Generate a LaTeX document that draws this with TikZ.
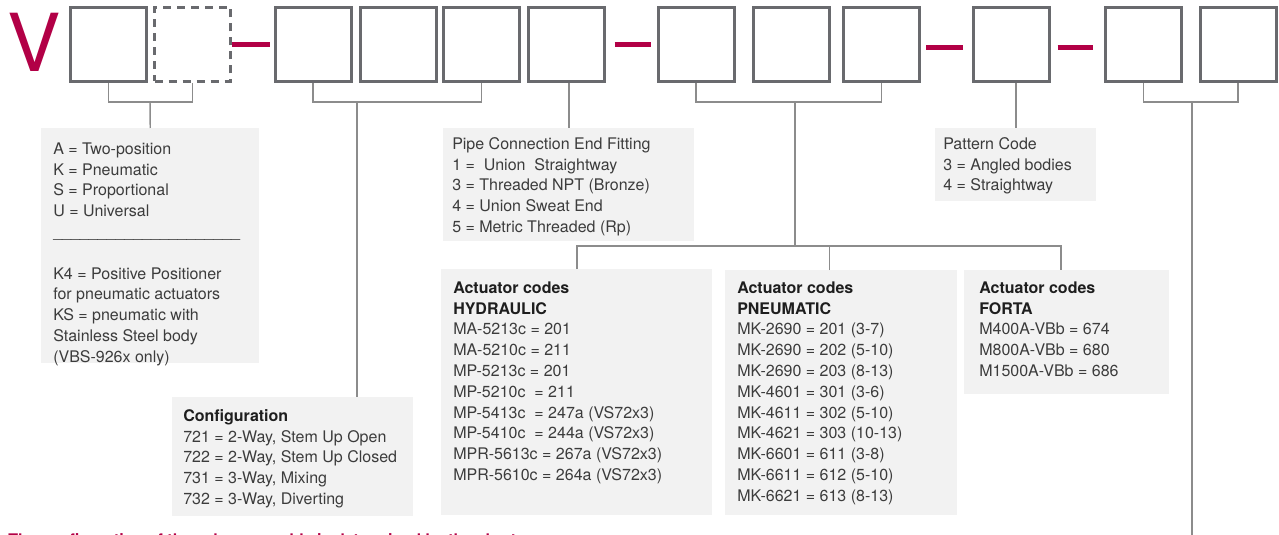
\documentclass[tikz,border=0pt]{standalone}
\usepackage{fontspec}
\setmainfont{TeX Gyre Heros}
\usetikzlibrary{positioning}

\definecolor{codered}{RGB}{178,0,70}
\definecolor{boxgray}{RGB}{105,106,110}
\definecolor{linkgray}{RGB}{140,140,140}
\definecolor{panelfill}{RGB}{242,242,242}
\definecolor{notetext}{RGB}{60,60,60}
\definecolor{headtext}{RGB}{30,30,30}

\tikzset{
  digit/.style={draw=boxgray, line width=2.25pt, minimum width=57pt, minimum height=55.5pt, inner sep=0pt},
  digitopt/.style={digit, dash pattern=on 6pt off 4.5pt},
  sep/.style={draw=codered, line width=3.75pt},
  link/.style={draw=linkgray, line width=1.1pt},
  panel/.style={fill=panelfill, anchor=north west, inner sep=0pt},
  note/.style={anchor=north west, inner sep=0pt, align=left, text=notetext, font=\fontsize{12}{15.6}\selectfont},
}
\newcommand{\headline}[1]{\textcolor{headtext}{\textbf{#1}}}

\begin{document}
\begin{tikzpicture}[x=0.75pt,y=0.75pt,yscale=-1,xscale=1]
\useasboundingbox (0,0) rectangle (1279,535);

% Code letter
\node[anchor=base west, inner sep=0pt, text=codered, font=\fontsize{60}{60}\selectfont] (valve) at (7,72) {V};

% Code boxes
\node[digit] (b1) at (108.5,44.5) {};
\node[digitopt] (b2) at (192.5,44.5) {};
\node[digit] (b3) at (313,44.5) {};
\node[digit] (b4) at (398,44.5) {};
\node[digit] (b5) at (481.5,44.5) {};
\node[digit] (b6) at (566,44.5) {};
\node[digit] (b7) at (696,44.5) {};
\node[digit] (b8) at (791,44.5) {};
\node[digit] (b9) at (881.5,44.5) {};
\node[digit] (b10) at (1011.5,44.5) {};
\node[digit] (b11) at (1143.5,44.5) {};
\node[digit] (b12) at (1238,44.5) {};

% Separators
\draw[sep, shorten >=3pt] (b2.east) -- (b3.west);
\draw[sep, shorten <=6.75pt, shorten >=4.5pt] (b6.east) -- (b7.west);
\draw[sep, shorten <=4.1pt, shorten >=7.1pt] ([shift={(0,3)}]b9.east) -- ([shift={(0,3)}]b10.west);
\draw[sep, shorten <=4.9pt, shorten >=7.9pt] ([shift={(0,3)}]b10.east) -- ([shift={(0,3)}]b11.west);

% Panels
\node[panel, minimum width=163.5pt, minimum height=176.25pt] (modebox) at (41,128) {};
\node[note] (modetext) at ([shift={(12,11.4)}]modebox.north west) {\strut A = Two-position\\ K = Pneumatic\\ S = Proportional\\ U = Universal\\
\_\_\_\_\_\_\_\_\_\_\_\_\_\_\_\_\_\_\_\_\_\\[15.6pt]
K4 = Positive Positioner\\ for pneumatic actuators\\ KS = pneumatic with\\ Stainless Steel body\\ (VBS-926x only)};

\node[panel, minimum width=180.75pt, minimum height=89.25pt] (confbox) at (172,397) {};
\node[note] (conftext) at ([shift={(11,9.4)}]confbox.north west) {\strut\headline{Configuration}\\ 721 = 2-Way, Stem Up Open\\ 722 = 2-Way, Stem Up Closed\\ 731 = 3-Way, Mixing\\ 732 = 3-Way, Diverting};

\node[panel, minimum width=188.25pt, minimum height=84.75pt] (pipebox) at (443,128) {};
\node[note] (pipetext) at ([shift={(9,6.4)}]pipebox.north west) {\strut Pipe Connection End Fitting\\ 1 =~ Union~ Straightway\\ 3 = Threaded NPT (Bronze)\\ 4 = Union Sweat End\\ 5 = Metric Threaded (Rp)};

\node[panel, minimum width=203.25pt, minimum height=184.5pt] (hydbox) at (441,269) {};
\node[note] (hydtext) at ([shift={(12,9.4)}]hydbox.north west) {\strut\headline{Actuator codes}\\ \headline{HYDRAULIC}\\ MA-5213c = 201\\ MA-5210c = 211\\ MP-5213c = 201\\ MP-5210c~ = 211\\ MP-5413c~ = 247a (VS72x3)\\ MP-5410c~ = 244a (VS72x3)\\ MPR-5613c = 267a (VS72x3)\\ MPR-5610c = 264a (VS72x3)};

\node[panel, minimum width=174pt, minimum height=183.75pt] (pneubox) at (725,270) {};
\node[note] (pneutext) at ([shift={(12,8.4)}]pneubox.north west) {\strut\headline{Actuator codes}\\ \headline{PNEUMATIC}\\ MK-2690 = 201 (3-7)\\ MK-2690 = 202 (5-10)\\ MK-2690 = 203 (8-13)\\ MK-4601 = 301 (3-6)\\ MK-4611 = 302 (5-10)\\ MK-4621 = 303 (10-13)\\ MK-6601 = 611 (3-8)\\ MK-6611 = 612 (5-10)\\ MK-6621 = 613 (8-13)};

\node[panel, minimum width=153.75pt, minimum height=93pt] (fortabox) at (964,270) {};
\node[note] (fortatext) at ([shift={(15,8.4)}]fortabox.north west) {\strut\headline{Actuator codes}\\ \headline{FORTA}\\ M400A-VBb = 674\\ M800A-VBb = 680\\ M1500A-VBb = 686};

\node[panel, minimum width=120.75pt, minimum height=54.75pt] (patbox) at (935,128) {};
\node[note] (pattext) at ([shift={(8,6.4)}]patbox.north west) {\strut Pattern Code\\ 3 = Angled bodies\\ 4 = Straightway};

% Brackets
\coordinate (g1) at (150,102);
\draw[link] (b1.south) |- (g1) -| (b2.south);
\draw[link] (g1) -- (modebox.north);

\coordinate (g2) at (357,102);
\draw[link] (b3.south) |- (g2) -| (b5.south);
\draw[link] (g2) -- (g2 |- confbox.north);

\draw[link] (pipebox.north |- b6.south) -- (pipebox.north);

\coordinate (g3) at (795,102);
\coordinate (act) at (795,246);
\coordinate (pneutop) at ([shift={(-12,0)}]pneubox.north);
\coordinate (fortatop) at ([shift={(-6,0)}]fortabox.north);
\draw[link] (b7.south) |- (g3) -| (b9.south);
\draw[link] (g3) -- (act);
\draw[link] (hydbox.north) |- (act) -| (fortatop);
\draw[link] (pneutop) -- (pneutop |- act);

\draw[link] (patbox.north |- b10.south) -- (patbox.north);

\coordinate (g4) at (1192,102);
\coordinate (tail) at (1192,535);
\draw[link] (b11.south) |- (g4) -| (b12.south);
\draw[link] (g4) -- (tail);

% Footnote, cut by the lower edge as in the chart
\node[anchor=base west, inner sep=0pt, text=codered, font=\bfseries\fontsize{12}{14}\selectfont] (footnote) at (8,545.5) {The configuration of the valve assembly is determined by the chart};

\end{tikzpicture}
\end{document}
